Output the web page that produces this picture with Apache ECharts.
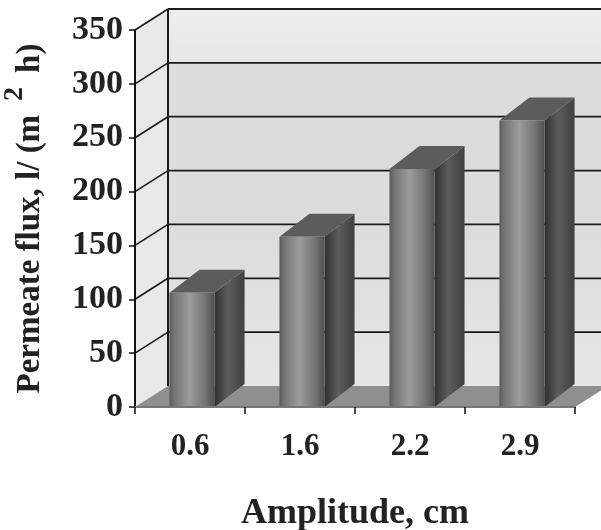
<!DOCTYPE html>
<html><head><meta charset="utf-8">
<style>html,body{margin:0;background:#fff}#c{width:601px;height:530px}</style>
<script src="https://cdn.jsdelivr.net/npm/echarts@6/dist/echarts.min.js"></script>
</head><body><div id="c"></div>
<script>
const categories = ['0.6','1.6','2.2','2.9'];
const flux = [106, 158, 221, 266];
const yTicks = [0,50,100,150,200,250,300,350];
const FONT = '"Liberation Serif"';
const DX = 33, DY = -21;      // oblique depth
const SDX = 30, SDY = -23;    // bar depth

const chart = echarts.init(document.getElementById('c'), null, {renderer:'canvas'});

function wall(params, api){
  const g = params.coordSys;
  const top = api.coord([0,350])[1], bot = api.coord([0,0])[1];
  const l = g.x, r = g.x+g.width;
  const poly = (pts, style)=>({type:'polygon',shape:{points:pts},style});
  return {type:'group',children:[
    poly([[l+DX,top+DY],[r+DX,top+DY],[r+DX,bot+DY],[l+DX,bot+DY]],{
      fill:new echarts.graphic.LinearGradient(0,0,0,1,[
        {offset:0,color:'#eeeeee'},{offset:.14,color:'#e6e6e6'},{offset:.145,color:'#dcdcdc'},
        {offset:.6,color:'#dcdcdc'},{offset:1,color:'#e6e6e6'}])}),
    poly([[l,top],[l+DX,top+DY],[l+DX,bot+DY],[l,bot]],{fill:'#e8e8e8'}),
    poly([[l,bot],[l+DX,bot+DY],[r+DX,bot+DY],[r,bot]],{fill:'#8f8f8f'}),
    {type:'line',shape:{x1:l+DX,y1:top+DY,x2:l+DX,y2:bot+DY},style:{stroke:'#1a1a1a',lineWidth:2}}
  ]};
}
function gridline(params, api){
  const g = params.coordSys;
  const y = api.coord([0,api.value(0)])[1];
  const l = g.x, r = g.x+g.width, v = api.value(0);
  const kids = [];
  if(v>0) kids.push({type:'line',shape:{x1:l,y1:y,x2:l+DX,y2:y+DY},style:{stroke:'#1a1a1a',lineWidth:1.6}});
  if(v>0) kids.push({type:'line',shape:{x1:l+DX,y1:y+DY,x2:r+DX,y2:y+DY},style:{stroke:'#1a1a1a',lineWidth:1.8}});
  return {type:'group',children:kids};
}
function bar(params, api){
  const c = api.coord([api.value(0),api.value(1)]);
  const b = api.coord([api.value(0),0]);
  const bw = api.size([1,0])[0]*0.41;
  const x0 = c[0]-bw/2+2, x1 = x0+bw, yt = c[1], yb = b[1];
  const faceGrad = new echarts.graphic.LinearGradient(0,0,1,0,[
    {offset:0,color:'#5a5a5a'},{offset:.1,color:'#747474'},{offset:.45,color:'#9c9c9c'},
    {offset:.8,color:'#727272'},{offset:1,color:'#505050'}]);
  const sideGrad = new echarts.graphic.LinearGradient(0,0,1,0,[
    {offset:0,color:'#303030'},{offset:.45,color:'#5c5c5c'},{offset:1,color:'#404040'}]);
  return {type:'group',children:[
    {type:'polygon',shape:{points:[[x1,yt],[x1+SDX,yt+SDY],[x1+SDX,yb+SDY],[x1,yb]]},style:{fill:sideGrad}},
    {type:'polygon',shape:{points:[[x0,yt],[x0+SDX,yt+SDY],[x1+SDX,yt+SDY],[x1,yt]]},style:{fill:'#5c5c5c'}},
    {type:'rect',shape:{x:x0,y:yt,width:bw,height:yb-yt},style:{fill:faceGrad}}
  ]};
}

chart.setOption({
  animation:false,
  backgroundColor:'#fff',
  grid:{left:135,right:26,top:30,bottom:123,outerBoundsMode:'none',containLabel:false},
  xAxis:{type:'category',data:categories,z:5,
    axisLine:{show:true,lineStyle:{color:'#777',width:2}},
    axisTick:{show:true,alignWithLabel:false,length:7,lineStyle:{color:'#111',width:1.5}},
    axisLabel:{margin:24,fontFamily:FONT,fontWeight:'bold',fontSize:31,color:'#222'},
    name:'Amplitude, cm',nameLocation:'middle',nameGap:89,
    nameTextStyle:{fontFamily:FONT,fontWeight:'bold',fontSize:36,color:'#222'}},
  yAxis:{type:'value',min:0,max:350,interval:50,z:5,
    axisLine:{show:true,lineStyle:{color:'#111',width:2}},
    axisTick:{show:true,length:6,lineStyle:{color:'#111',width:1.5}},
    splitLine:{show:false},
    axisLabel:{margin:12,fontFamily:FONT,fontWeight:'bold',fontSize:34,color:'#222',padding:[8,0,0,0],
      formatter:v=>yTicks.includes(v)?String(v):''},
    name:'{a|Permeate flux, l/ (m}{s|2}{a|h)}',nameLocation:'middle',nameGap:76,nameRotate:90,
    nameTextStyle:{rich:{
      a:{fontFamily:FONT,fontWeight:'bold',fontSize:33,color:'#222'},
      s:{fontFamily:FONT,fontWeight:'bold',fontSize:28,color:'#222',padding:[0,14,30,14]}}}},
  series:[
    {type:'custom',silent:true,z:1,clip:false,data:[[0]],renderItem:wall},
    {type:'custom',silent:true,z:2,clip:false,data:yTicks.map(v=>[v]),encode:{y:0},renderItem:gridline},
    {type:'custom',silent:true,z:3,clip:false,data:categories.map((c,i)=>[i,flux[i]]),encode:{x:0,y:1},renderItem:bar}
  ]
});
</script></body></html>
